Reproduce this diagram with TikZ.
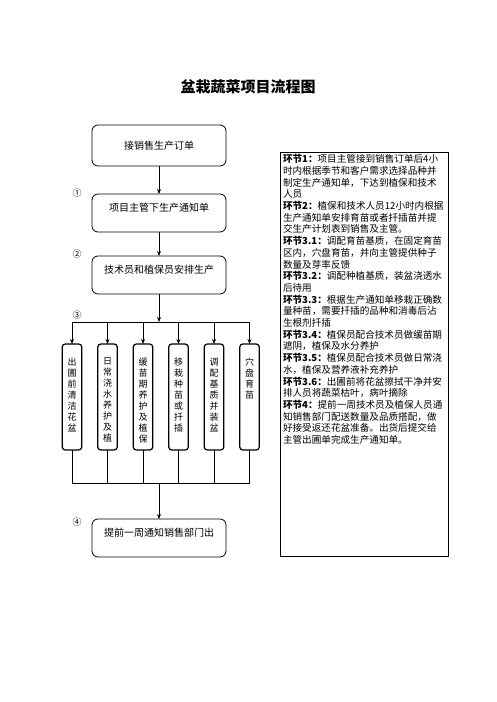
\documentclass[tikz,border=0pt]{standalone}
\usepackage{fontspec}
\setmainfont{Noto Sans CJK SC}
\usetikzlibrary{positioning}
\usetikzlibrary{arrows.meta}

\begin{document}
\begin{tikzpicture}[x=1pt, y=-1pt, line width=0.8pt, outer sep=0, >={Stealth[length=5pt,width=4pt]},
    flowbox/.style={draw, rectangle, rounded corners=6pt, minimum height=38pt, minimum width=134pt, font=\fontsize{10}{12}\selectfont},
    flowtop/.style={flowbox, text height=8pt, text depth=11pt},
    stagebox/.style={draw, rectangle, rounded corners=3pt, line width=1.2pt, minimum width=19.5pt, minimum height=106pt},
    stagetext/.style={inner sep=0, align=center, font=\fontsize{9}{11}\selectfont},
    mark label/.style={font=\fontsize{9}{11}\selectfont}]
        \useasboundingbox (0,0) rectangle (496,702);
        \node [font=\fontsize{15}{18}\selectfont\bfseries] (0) at (248,87) {盆栽蔬菜项目流程图};
        \node [flowbox, minimum height=41pt] (1) at (159,145.5) {接销售生产订单};
        \node [flowtop, below = 28pt of 1] (2) {项目主管下生产通知单};
        \node [flowtop, below = 24pt of 2] (3) {技术员和植保员安排生产};
        \node [stagebox] (5) at (72,397) {};
        \node [stagebox, right = 16pt of 5] (6) {};
        \node [stagebox, right = 16pt of 6] (7) {};
        \node [stagebox, right = 16pt of 7] (8) {};
        \node [stagebox, right = 16pt of 8] (9) {};
        \node [stagebox, right = 16pt of 9] (10) {};
        \node [stagetext, below = 14pt of 5.north] (5t) {出\\圃\\前\\清\\洁\\花\\盆};
        \node [stagetext, below = 14pt of 6.north] (6t) {日\\常\\浇\\水\\养\\护\\及\\植};
        \node [stagetext, below = 14pt of 7.north] (7t) {缓\\苗\\期\\养\\护\\及\\植\\保};
        \node [stagetext, below = 14pt of 8.north] (8t) {移\\栽\\种\\苗\\或\\扦\\插};
        \node [stagetext, below = 14pt of 9.north] (9t) {调\\配\\基\\质\\并\\装\\盆};
        \node [stagetext, below = 14pt of 10.north] (10t) {穴\\盘\\育\\苗};
        \node [flowtop] (4) at (159,538) {提前一周通知销售部门出};
        \node [mark label] (13) at (77,193) {①};
        \node [mark label] (14) at (77,254) {②};
        \node [mark label] (15) at (77,315) {③};
        \node [mark label] (16) at (77,522) {④};
        \coordinate (a) at (159,322);
        \coordinate (b) at (159,483);
        \draw[->] (1) -- (2);
        \draw[->] (2) -- (3);
        \draw[->] (3) -- (a);
        \draw (5.north |- a) -- (10.north |- a);
        \draw[->] (5.north |- a) -- (5);
        \draw[->] (6.north |- a) -- (6);
        \draw[->] (7.north |- a) -- (7);
        \draw[->] (8.north |- a) -- (8);
        \draw[->] (9.north |- a) -- (9);
        \draw[->] (10.north |- a) -- (10);
        \draw (5) -- (5.south |- b);
        \draw (6) -- (6.south |- b);
        \draw (7) -- (7.south |- b);
        \draw (8) -- (8.south |- b);
        \draw (9) -- (9.south |- b);
        \draw (10) -- (10.south |- b);
        \draw (5.south |- b) -- (10.south |- b);
        \draw[->] (b) -- (4);
        \node [draw, rectangle, line width=1pt, minimum width=168pt, minimum height=404pt, anchor=north west] (11) at (280,152) {};
        \node [anchor=north west, align=left, inner sep=0, font=\fontsize{9.6}{11.7}\selectfont] (12) at ([shift={(3,2.5)}]11.north west) {%
            {\bfseries 环节1：}项目主管接到销售订单后4小\\
            时内根据季节和客户需求选择品种并\\
            制定生产通知单，下达到植保和技术\\
            人员\\
            {\bfseries 环节2：}植保和技术人员12小时内根据\\
            生产通知单安排育苗或者扦插苗并提\\
            交生产计划表到销售及主管。\\
            {\bfseries 环节3.1：}调配育苗基质，在固定育苗\\
            区内，穴盘育苗，并向主管提供种子\\
            数量及芽率反馈\\
            {\bfseries 环节3.2：}调配种植基质，装盆浇透水\\
            后待用\\
            {\bfseries 环节3.3：}根据生产通知单移栽正确数\\
            量种苗，需要扦插的品种和消毒后沾\\
            生根剂扦插\\
            {\bfseries 环节3.4：}植保员配合技术员做缓苗期\\
            遮阴，植保及水分养护\\
            {\bfseries 环节3.5：}植保员配合技术员做日常浇\\
            水，植保及营养液补充养护\\
            {\bfseries 环节3.6：}出圃前将花盆擦拭干净并安\\
            排人员将蔬菜枯叶，病叶摘除\\
            {\bfseries 环节4：}提前一周技术员及植保人员通\\
            知销售部门配送数量及品质搭配，做\\
            好接受返还花盆准备。出货后提交给\\
            主管出圃单完成生产通知单。};
    \end{tikzpicture}
\end{document}
